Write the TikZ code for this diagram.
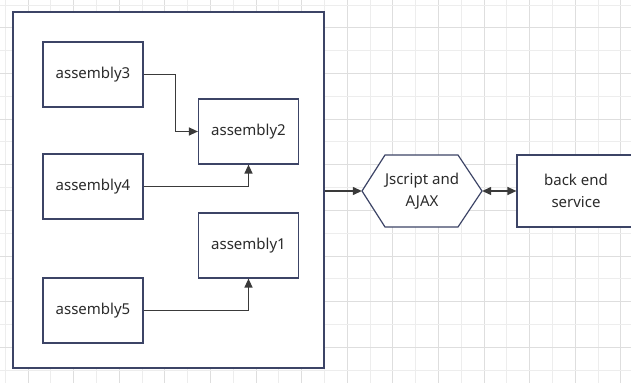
\documentclass[tikz,border=0pt]{standalone}
\usepackage{fontspec}
\setmainfont{Noto Sans}
\usetikzlibrary{arrows.meta,calc}
\definecolor{boxline}{HTML}{3C4466}
\definecolor{arrline}{HTML}{3A3A3A}
\definecolor{txt}{HTML}{2B2B2B}
\definecolor{gridmaj}{HTML}{DEDEDE}
\definecolor{gridmin}{HTML}{EDEDED}
\tikzset{
  asm/.style={draw=boxline, line width=1.2pt, fill=white, minimum width=100pt, minimum height=65pt, inner sep=0pt, text=txt, font=\fontsize{15}{21.5}\selectfont},
  conn/.style={draw=arrline, line width=1.3pt, -{Triangle[length=9pt,width=8pt]}},
  dconn/.style={draw=arrline, line width=1.3pt, {Triangle[length=9pt,width=8pt]}-{Triangle[length=9pt,width=8pt]}},
  gmin/.style={draw=gridmin, line width=1pt},
  gmaj/.style={draw=gridmaj, line width=1pt},
  hextext/.style={minimum width=120pt, minimum height=72pt, inner sep=0pt, text=txt, align=center, font=\fontsize{15}{21.5}\selectfont},
}
\begin{document}
\begin{tikzpicture}[x=1pt,y=-1pt]
\useasboundingbox (0,0) rectangle (631,387);
\clip (0,0) rectangle (631,387);
\fill[white] (0,0) rectangle (631,387);
% grid
\foreach \k in {0,...,27} {
  \pgfmathsetmacro{\p}{5.2+22.8*\k}
  \pgfmathtruncatemacro{\odd}{mod(\k,2)}
  \ifnum\odd=1
    \draw[gmaj] (\p,0) -- (\p,383);
  \else
    \draw[gmin] (\p,0) -- (\p,383);
  \fi
}
\foreach \k in {0,...,16} {
  \pgfmathsetmacro{\p}{5.2+22.8*\k}
  \pgfmathtruncatemacro{\odd}{mod(\k,2)}
  \ifnum\odd=1
    \draw[gmaj] (0,\p) -- (631,\p);
  \else
    \draw[gmin] (0,\p) -- (631,\p);
  \fi
}
% container
\node[draw=boxline, line width=1.2pt, fill=white, minimum width=311pt, minimum height=356pt, inner sep=0pt] (outer) at (168.5,190) {};
% inner boxes
\node[asm] (a3) at (93,74.5) {assembly3};
\node[asm] (a4) at (93,186.5) {assembly4};
\node[asm] (a5) at (93,310.5) {assembly5};
\node[asm] (a2) at (248.5,131.5) {assembly2};
\node[asm] (a1) at (248.5,245.5) {assembly1};
% hexagon
\coordinate (jsc) at (422,191);
\draw[draw=boxline, line width=1.2pt, fill=white, line join=miter]
  ($(jsc)+(-60,0)$) -- ($(jsc)+(-37,-36)$) -- ($(jsc)+(36,-36)$) -- ($(jsc)+(60,0)$)
  -- ($(jsc)+(36,36)$) -- ($(jsc)+(-37,36)$) -- cycle;
\node[hextext] (js) at (jsc) {Jscript and\\AJAX};
% back end
\node[asm, minimum width=118pt, minimum height=72pt, align=center] (be) at (576,191) {back end\\service};
% connectors
\draw[conn] (a3.east) -- ++(32,0) |- (a2.west);
\draw[conn] (a4.east) -| (a2.south);
\draw[conn] (a5.east) -| (a1.south);
\draw[conn] (outer.east |- js.west) -- (js.west);
\draw[dconn] (js.east) -- (be.west);
\end{tikzpicture}
\end{document}
